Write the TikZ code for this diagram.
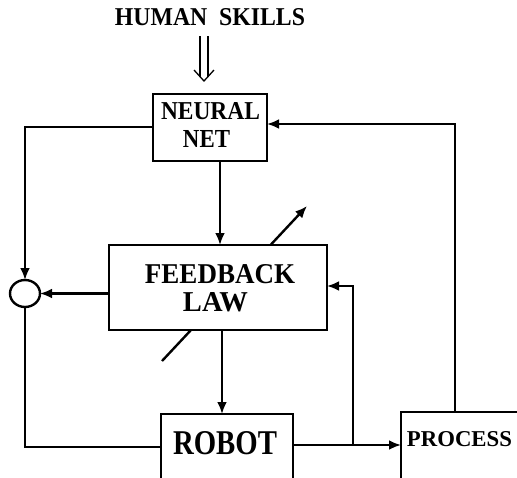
\documentclass[tikz,border=0pt]{standalone}
\usepackage{fontspec}
\setmainfont{Liberation Serif}
\usetikzlibrary{arrows.meta,shapes.geometric,calc}
\newcommand{\fitlabel}[3]{\resizebox{#1pt}{#2pt}{\bfseries #3}}
\begin{document}
\begin{tikzpicture}[x=1pt,y=-1pt,
  wire/.style={line width=2.4pt,line join=miter},
  flow/.style={wire,-{Latex[length=12pt,width=10pt]}},
  blockbox/.style={draw,fill=white,line width=2.4pt,inner sep=0pt,outer sep=0pt},
  word/.style={inner sep=0pt,outer sep=0pt}]
\useasboundingbox (0,0) rectangle (517,477);
\clip (0,0) rectangle (517,477);

% blocks
\node[blockbox,minimum width=114pt,minimum height=67pt] (nn) at (210,127.5) {};
\node[blockbox,minimum width=132pt,minimum height=90pt] (robot) at (227,459) {};
\node[blockbox,minimum width=140pt,minimum height=90pt] (process) at (471,457) {};
\node[draw,ellipse,line width=2.4pt,minimum width=30pt,minimum height=27pt,inner sep=0pt,outer sep=0pt] (sum) at (25,293.5) {};

% adjustable-gain arrow crossing the feedback block
\coordinate (gainstart) at (162,361);
\coordinate (gainend) at (307,206);
\draw[flow] (gainstart) -- (gainend);
\node[blockbox,minimum width=218pt,minimum height=85pt] (fb) at (218,287.5) {};

% text
\node[word] (hs) at (210,17.5) {\fitlabel{190}{17}{HUMAN\ \ SKILLS}};
\node[word] at (210.5,111.5) {\fitlabel{99}{17}{NEURAL}};
\node[word] at (206.5,138.5) {\fitlabel{47}{17}{NET}};
\node[word] at (220,274.5) {\fitlabel{150}{19}{FEEDBACK}};
\node[word] at (215.5,302.5) {\fitlabel{65}{19}{LAW}};
\node[word] at (225,443.5) {\fitlabel{104}{23}{ROBOT}};
\node[word] at (459.5,439.5) {\fitlabel{105}{15}{PROCESS}};

% double input arrow from the human skills
\coordinate (dtip) at (204,81);
\draw[line width=1.3pt] (200,36) -- (200,76.5) (208,36) -- (208,76.5);
\draw[line width=1.3pt] ($(dtip)+(-10,-11)$) -- (dtip) -- ($(dtip)+(10,-11)$);

% connectors
\draw[flow] (nn.south -| 220,0) -- (fb.north -| 220,0);
\draw[flow] (fb.south -| 222,0) -- (robot.north -| 222,0);
\draw[flow] (nn.west |- 0,127) -| (sum.north);
\draw[flow] (fb.west |- 0,293.5) -- (sum.east);
\draw[wire] (sum.south) |- (robot.west |- 0,447);
\draw[flow] (robot.east |- 0,445) -- (process.west |- 0,445);
\coordinate (split) at (353,445);
\draw[flow] (split) |- (fb.east |- 0,286);
\draw[flow] (process.north -| 455,0) |- (nn.east |- 0,124);
\end{tikzpicture}
\end{document}
